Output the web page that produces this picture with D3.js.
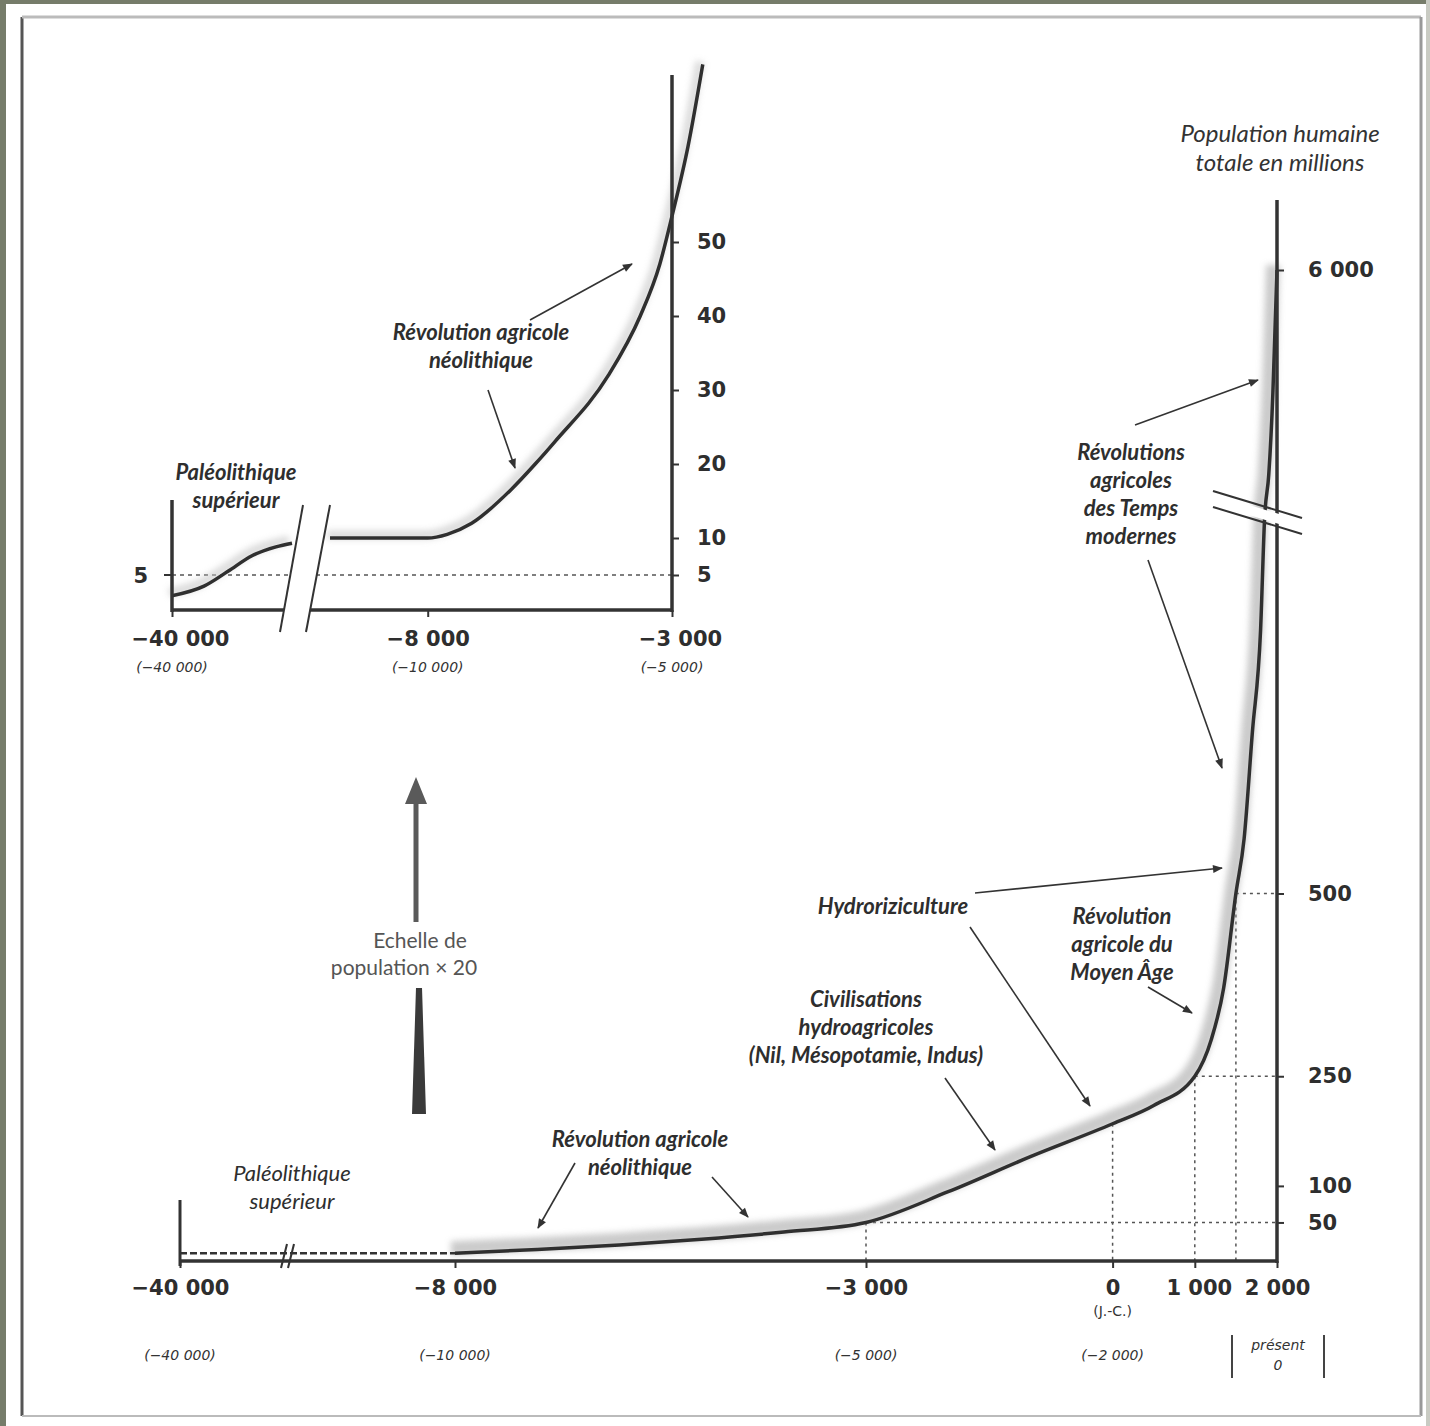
<!DOCTYPE html>
<meta charset="utf-8">
<html>
  <head>
    <title>Population humaine totale</title>
    <script src="https://d3js.org/d3.v7.min.js"></script>
    <style>
      body{margin:0;background:#fff;}
      .ann{font-family:Lato,"DejaVu Sans",sans-serif;font-weight:bold;font-style:italic;font-size:22px;fill:#2e2e2e;}
      .tick text,.tk{font-family:"DejaVu Sans",sans-serif;font-weight:bold;font-size:21px;fill:#2e2e2e;}
      .sub{font-family:"DejaVu Sans",sans-serif;font-style:italic;font-size:14px;fill:#333;}
    </style>
  </head>
  <body>
    <div id="chart"></div>
  <script>
    var width=1430,
        height=1426;

    // main curve : years / population (millions)
    var mainYears=[-8000,-7000,-6000,-5000,-4000,-3000,-2000,-1000,0,500,1000,1200,1350,1500,1600,1700,1800,1850,1900,1950,1975,2000];
    var mainPop=[8,13,19,27,37,50,92,140,185,210,250,300,370,500,575,720,860,1200,2000,3600,4800,6000];
    // dashed part before -8000
    var earlyYears=[-40000,-8000];
    var earlyPop=[8,8];
    // inset (population x 20)
    var insetLeftYears=[-40000,-36000,-33000,-30000,-27000,-25000];
    var insetLeftPop=[2.2,3.5,5.5,7.6,8.8,9.3];
    var insetYears=[-10000,-8000,-7600,-7100,-6300,-5800,-5400,-4300,-3650,-3250,-3000,-2670,-2370];
    var insetPop=[10,10,10.5,12,16.5,20,23,32,40,47,53.5,63,74];

    var mainTicks=[-40000,-8000,-3000,0,1000,2000];
    var mainTickLabels=["\u221240 000","\u22128 000","\u22123 000","0","1 000","2 000"];
    var mainBpLabels=["(\u221240 000)","(\u221210 000)","(\u22125 000)","(\u22122 000)",""];
    var popTicks=[50,100,250,500,6000];
    var popTickLabels=["50","100","250","500","6 000"];
    var insetTicks=[-40000,-8000,-3000];
    var insetTickLabels=["\u221240 000","\u22128 000","\u22123 000"];
    var insetBpLabels=["(\u221240 000)","(\u221210 000)","(\u22125 000)"];
    var insetPopTicks=[5,10,20,30,40,50];

    // dotted guides
    var guideYears=[-3000,0,1000,1500];
    var guidePops=[50,185,250,500];
    var guideHoriz=[true,false,true,true];

    var svg=d3.select("#chart").append("svg")
           .attr("width",width)
           .attr("height",height);

    var defs=svg.append("defs");
    defs.append("filter").attr("id","blur").attr("x","-20%").attr("y","-20%").attr("width","140%").attr("height","140%")
        .append("feGaussianBlur").attr("stdDeviation",3);
    defs.append("marker").attr("id","head").attr("viewBox","0 0 10 10")
        .attr("refX",9).attr("refY",5).attr("markerWidth",14).attr("markerHeight",10)
        .attr("markerUnits","userSpaceOnUse").attr("orient","auto")
        .append("path").attr("d","M0,1 L10,5 L0,9 Z").attr("fill","#333");

    //page + frame
    svg.append("rect").attr("width",width).attr("height",height).attr("fill","#fff");
    svg.append("rect").attr("x",0).attr("y",0).attr("width",6).attr("height",height).attr("fill","#767c6a");
    svg.append("rect").attr("x",0).attr("y",0).attr("width",width).attr("height",4).attr("fill","#767c6a");
    svg.append("rect").attr("x",1426).attr("y",0).attr("width",4).attr("height",height).attr("fill","#c9cbc3");
    svg.append("line").attr("x1",22).attr("y1",17).attr("x2",22).attr("y2",1416).attr("stroke","#555").attr("stroke-width",3);
    svg.append("line").attr("x1",22).attr("y1",17).attr("x2",1421).attr("y2",17).attr("stroke","#bbb").attr("stroke-width",3);
    svg.append("line").attr("x1",1421).attr("y1",17).attr("x2",1421).attr("y2",1416).attr("stroke","#999").attr("stroke-width",3);
    svg.append("line").attr("x1",22).attr("y1",1416).attr("x2",1421).attr("y2",1416).attr("stroke","#bbb").attr("stroke-width",2);

    // ---------- main chart ----------
    var x=d3.scaleLinear().domain([-40000,-25000,-8000,2000]).range([180,287,455,1277]);
    var y=d3.scaleLinear().domain([0,1000,1500,6000]).range([1259,528,500,270]);
    var mainG=svg.append("g");

    var mainData=mainYears.map(function(d,i){return [d,mainPop[i]];});
    var mainLine=d3.line().x(function(d){return x(d[0])}).y(function(d){return y(d[1])}).curve(d3.curveMonotoneX);

    //guides
    guideYears.forEach(function(yr,i){
      mainG.append("line").attr("x1",x(yr)).attr("x2",x(yr)).attr("y1",y(guidePops[i])).attr("y2",1261)
        .attr("stroke","#555").attr("stroke-width",1.5).attr("stroke-dasharray","3,4");
      if(guideHoriz[i]){
        mainG.append("line").attr("x1",x(yr)).attr("x2",x(2000)).attr("y1",y(guidePops[i])).attr("y2",y(guidePops[i]))
          .attr("stroke","#555").attr("stroke-width",1.5).attr("stroke-dasharray","3,4");
      }
    });

    //halo + curve
    mainG.append("path").datum(mainData).attr("d",mainLine)
      .attr("transform","translate(-4,-5)")
      .attr("fill","none").attr("stroke","#b9b9b9").attr("stroke-width",14)
      .attr("opacity",0.75).attr("filter","url(#blur)");
    mainG.append("path").datum(mainData).attr("d",mainLine)
      .attr("fill","none").attr("stroke","#2f2f2f").attr("stroke-width",3.5);

    mainG.append("path").datum(earlyYears.map(function(d,i){return [d,earlyPop[i]];}))
      .attr("d",d3.line().x(function(d){return x(d[0])}).y(function(d){return y(d[1])}))
      .attr("fill","none").attr("stroke","#333").attr("stroke-width",2.5).attr("stroke-dasharray","7,3");
    // small break on the dashed part
    [0,7].forEach(function(o){
      mainG.append("line").attr("x1",x(-25000)-6+o).attr("y1",1268).attr("x2",x(-25000)+o).attr("y2",1244)
        .attr("stroke","#333").attr("stroke-width",2);
    });

    //x axis
    var xAxis=d3.axisBottom(x).tickValues(mainTicks)
        .tickFormat(function(d,i){return mainTickLabels[i]}).tickSizeInner(7).tickSizeOuter(0).tickPadding(12);
    var xAxisG=mainG.append("g").attr("transform","translate(0,1261)").call(xAxis);
    xAxisG.select(".domain").remove();
    xAxisG.selectAll("line").attr("stroke","#333").attr("stroke-width",2);
    xAxisG.selectAll("text").attr("dx",function(d){return d===1000?4:0});
    mainG.append("line").attr("x1",180).attr("x2",x(2000)).attr("y1",1261).attr("y2",1261)
      .attr("stroke","#333").attr("stroke-width",3.5);
    mainG.append("line").attr("x1",180).attr("x2",180).attr("y1",1200).attr("y2",1266)
      .attr("stroke","#333").attr("stroke-width",3);
    mainG.append("text").attr("class","sub").attr("x",x(0)).attr("y",1316).attr("text-anchor","middle")
      .style("font-style","normal").text("(J.-C.)");
    mainTicks.slice(0,4).forEach(function(d,i){
      mainG.append("text").attr("class","sub").attr("x",x(d)).attr("y",1360).attr("text-anchor","middle").text(mainBpLabels[i]);
    });
    // (présent 0)
    mainG.append("text").attr("class","sub").attr("x",1278).attr("y",1350).attr("text-anchor","middle").text("présent");
    mainG.append("text").attr("class","sub").attr("x",1278).attr("y",1370).attr("text-anchor","middle").text("0");
    mainG.append("line").attr("x1",1232).attr("x2",1232).attr("y1",1335).attr("y2",1378).attr("stroke","#444").attr("stroke-width",2);
    mainG.append("line").attr("x1",1324).attr("x2",1324).attr("y1",1335).attr("y2",1378).attr("stroke","#444").attr("stroke-width",2);

    //y axis
    var yAxis=d3.axisRight(y).tickValues(popTicks)
        .tickFormat(function(d,i){return popTickLabels[i]}).tickSizeInner(7).tickSizeOuter(0).tickPadding(24);
    var yAxisG=mainG.append("g").attr("transform","translate("+x(2000)+",0)").call(yAxis);
    yAxisG.select(".domain").remove();
    yAxisG.selectAll("line").attr("stroke","#333").attr("stroke-width",2);
    mainG.append("line").attr("x1",x(2000)).attr("x2",x(2000)).attr("y1",200).attr("y2",1263)
      .attr("stroke","#333").attr("stroke-width",3.5);

    //axis break
    mainG.append("polygon").attr("points","1213,494 1302,521 1302,531 1213,504").attr("fill","#fff");
    mainG.append("line").attr("x1",1213).attr("y1",491).attr("x2",1302).attr("y2",518).attr("stroke","#333").attr("stroke-width",2);
    mainG.append("line").attr("x1",1213).attr("y1",507).attr("x2",1302).attr("y2",534).attr("stroke","#333").attr("stroke-width",2);

    mainG.append("text").attr("x",1280).attr("y",142).attr("text-anchor","middle")
      .style("font-family","Lato, sans-serif").style("font-style","italic").style("font-size","24px").style("fill","#333")
      .text("Population humaine");
    mainG.append("text").attr("x",1280).attr("y",171).attr("text-anchor","middle")
      .style("font-family","Lato, sans-serif").style("font-style","italic").style("font-size","24px").style("fill","#333")
      .text("totale en millions");

    // ---------- inset ----------
    var xi=d3.scaleLinear().domain([-40000,-25000,-10000,-3000]).range([172,292,330,672]);
    var yi=d3.scaleLinear().domain([0,50]).range([612,242]);
    var insetG=svg.append("g");
    var insetLine=d3.line().x(function(d){return xi(d[0])}).y(function(d){return yi(d[1])}).curve(d3.curveMonotoneX);
    var insetData=insetYears.map(function(d,i){return [d,insetPop[i]];});
    var insetLeftData=insetLeftYears.map(function(d,i){return [d,insetLeftPop[i]];});

    insetG.append("line").attr("x1",172).attr("x2",672).attr("y1",yi(5)).attr("y2",yi(5))
      .attr("stroke","#555").attr("stroke-width",1.5).attr("stroke-dasharray","4,4");
    [insetLeftData,insetData].forEach(function(dat){
      insetG.append("path").datum(dat).attr("d",insetLine).attr("transform","translate(-3,-3)")
        .attr("fill","none").attr("stroke","#c4c4c4").attr("stroke-width",9).attr("opacity",0.6).attr("filter","url(#blur)");
      insetG.append("path").datum(dat).attr("d",insetLine)
        .attr("fill","none").attr("stroke","#2f2f2f").attr("stroke-width",3.5);
    });

    var xiAxis=d3.axisBottom(xi).tickValues(insetTicks)
        .tickFormat(function(d,i){return insetTickLabels[i]}).tickSizeInner(7).tickSizeOuter(0).tickPadding(14);
    var xiAxisG=insetG.append("g").attr("transform","translate(0,610)").call(xiAxis);
    xiAxisG.select(".domain").remove();
    xiAxisG.selectAll("line").attr("stroke","#333").attr("stroke-width",2);
    xiAxisG.selectAll("text").attr("dx",function(d){return d===-3000?8:(d===-40000?8:0)});
    insetG.append("line").attr("x1",172).attr("x2",672).attr("y1",610).attr("y2",610).attr("stroke","#333").attr("stroke-width",3.5);
    insetG.append("line").attr("x1",172).attr("x2",172).attr("y1",500).attr("y2",612).attr("stroke","#333").attr("stroke-width",3.5);
    insetG.append("line").attr("x1",164).attr("x2",172).attr("y1",yi(5)).attr("y2",yi(5)).attr("stroke","#333").attr("stroke-width",2);
    insetG.append("text").attr("class","tk").attr("x",148).attr("y",yi(5)+8).attr("text-anchor","end").text("5");
    insetTicks.forEach(function(d,i){
      insetG.append("text").attr("class","sub").attr("x",xi(d)).attr("y",672).attr("text-anchor","middle").text(insetBpLabels[i]);
    });

    var yiAxis=d3.axisRight(yi).tickValues(insetPopTicks).tickSizeInner(7).tickSizeOuter(0).tickPadding(18);
    var yiAxisG=insetG.append("g").attr("transform","translate(672,0)").call(yiAxis);
    yiAxisG.select(".domain").remove();
    yiAxisG.selectAll("line").attr("stroke","#333").attr("stroke-width",2);
    insetG.append("line").attr("x1",672).attr("x2",672).attr("y1",75).attr("y2",612).attr("stroke","#333").attr("stroke-width",3.5);

    //inset break
    insetG.append("polygon").attr("points","304,500 330,500 305,636 279,636").attr("fill","#fff");
    insetG.append("line").attr("x1",303).attr("y1",505).attr("x2",280).attr("y2",632).attr("stroke","#333").attr("stroke-width",2);
    insetG.append("line").attr("x1",330).attr("y1",505).attr("x2",306).attr("y2",632).attr("stroke","#333").attr("stroke-width",2);

    // ---------- annotations ----------
    var labels=[
      {x:292,y:1181,lines:["Paléolithique","supérieur"],bold:false},
      {x:640,y:1147,lines:["Révolution agricole","néolithique"],bold:true},
      {x:866,y:1007,lines:["Civilisations","hydroagricoles","(Nil, Mésopotamie, Indus)"],bold:true},
      {x:893,y:914,lines:["Hydroriziculture"],bold:true},
      {x:1122,y:924,lines:["Révolution","agricole du","Moyen Âge"],bold:true},
      {x:1131,y:460,lines:["Révolutions","agricoles","des Temps","modernes"],bold:true},
      {x:236,y:480,lines:["Paléolithique","supérieur"],bold:true},
      {x:481,y:340,lines:["Révolution agricole","néolithique"],bold:true}
    ];
    labels.forEach(function(l){
      var t=svg.append("text").attr("class","ann").attr("text-anchor","middle")
        .style("font-weight",l.bold?"bold":"normal");
      l.lines.forEach(function(s,i){
        t.append("tspan").attr("x",l.x).attr("y",l.y+i*28).text(s);
      });
    });

    var arrows=[
      [575,1163,538,1228],[712,1177,748,1217],[945,1078,995,1150],
      [975,893,1222,868],[970,927,1090,1106],[1148,987,1192,1013],
      [1135,425,1258,380],[1148,560,1222,768],
      [530,320,632,264],[488,390,515,468]
    ];
    svg.selectAll(".arrow").data(arrows).enter().append("line").attr("class","arrow")
      .attr("x1",function(d){return d[0]}).attr("y1",function(d){return d[1]})
      .attr("x2",function(d){return d[2]}).attr("y2",function(d){return d[3]})
      .attr("stroke","#333").attr("stroke-width",1.6).attr("marker-end","url(#head)");

    // echelle x 20 arrow
    var ech=svg.append("g");
    ech.append("path").attr("d","M416,777 L427,804 L418.5,804 L418.5,922 L413.5,922 L413.5,804 L405,804 Z").attr("fill","#5a5a5a");
    ech.append("path").attr("d","M416,988 L422,988 L426,1114 L412,1114 Z").attr("fill","#3a3a3a");
    ech.append("text").attr("x",420).attr("y",948).attr("text-anchor","middle")
      .style("font-family","Lato, sans-serif").style("font-size","21px").style("fill","#555").text("Echelle de");
    ech.append("text").attr("x",404).attr("y",975).attr("text-anchor","middle")
      .style("font-family","Lato, sans-serif").style("font-size","21px").style("fill","#555").text("population × 20");
  </script>
  </body>
</html>
